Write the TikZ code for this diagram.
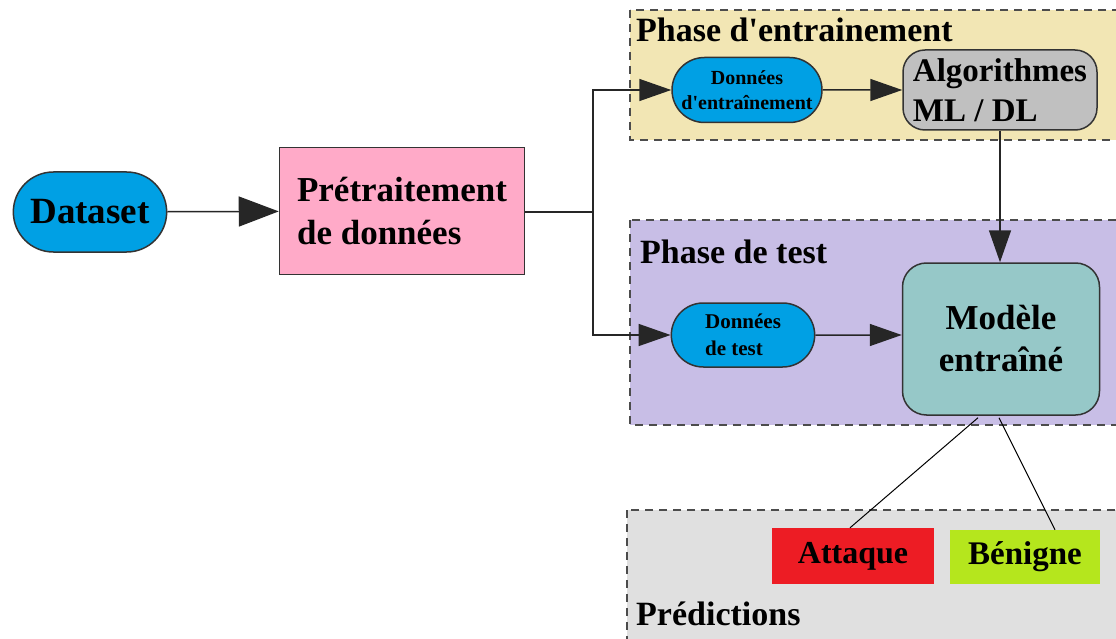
\documentclass[tikz,border=0pt]{standalone}
\usepackage{fontspec}
\setmainfont{Liberation Serif}
\usetikzlibrary{arrows.meta,shapes.misc,calc}
\definecolor{xanhdl}{RGB}{0,160,228}
\definecolor{hong}{RGB}{255,170,200}
\definecolor{vangnhat}{RGB}{242,230,180}
\definecolor{xamhop}{RGB}{192,192,192}
\definecolor{tim}{RGB}{200,190,230}
\definecolor{xanhmh}{RGB}{150,200,200}
\definecolor{xamnhat}{RGB}{224,224,224}
\definecolor{do}{RGB}{237,28,36}
\definecolor{xanhla}{RGB}{181,230,29}
\tikzset{
  khung/.style={draw=black!70, line width=2pt, dash pattern=on 8pt off 6pt},
  vien/.style={draw=black!80, line width=1.5pt},
  tieude/.style={anchor=base west, inner sep=0pt, font=\bfseries\fontsize{34}{40}\selectfont},
  vienoval/.style={vien, rounded rectangle, fill=xanhdl},
  muiten/.style={-{Triangle[length=32pt,width=22pt]}, line width=1.5pt, draw=black!85},
  muitenlon/.style={-{Triangle[length=40pt,width=30pt]}, line width=1.5pt, draw=black!85},
  duong/.style={line width=1.5pt, draw=black!85}
}
\begin{document}
\begin{tikzpicture}[x=1pt,y=-1pt]
    \useasboundingbox (0,0) rectangle (1116,639);
    \clip (0,0) rectangle (1116,639);
    \fill[white] (0,0) rectangle (1116,639);

    % Vẽ các khung nét đứt
    \draw[khung, fill=vangnhat] (630,10) rectangle (1130,140);
    \draw[khung, fill=tim] (630,220) rectangle (1130,425);
    \draw[khung, fill=xamnhat] (627,510) rectangle (1130,650);

    % Tiêu đề các khung
    \node[tieude] (tdtrain) at (636,42) {Phase d\textquotesingle entrainement};
    \node[tieude] (tdtest) at (640,263) {Phase de test};
    \node[tieude] (tdpred) at (636,625) {Prédictions};

    % Các nút
    \node[vienoval, minimum width=160, minimum height=80,
          font=\bfseries\fontsize{37}{42}\selectfont] (data) at (90,212) {Dataset};
    \node[vien, fill=hong, minimum width=245, minimum height=127, align=left,
          font=\bfseries\fontsize{35}{43}\selectfont] (pre) at (402,211) {Prétraitement\\de données};
    \node[vienoval, minimum width=150, minimum height=65, inner sep=0pt, align=center,
          font=\bfseries\fontsize{20}{25}\selectfont] (dtrain) at (747,90) {Données\\d\textquotesingle entraînement};
    \node[vien, fill=xamhop, rounded corners=22pt, minimum width=194, minimum height=80,
          align=left, font=\bfseries\fontsize{33}{40}\selectfont] (algo) at (1000,90) {Algorithmes\\ML / DL};
    \node[vienoval, minimum width=150, minimum height=64, align=left,
          font=\bfseries\fontsize{21}{27}\selectfont] (dtest) at (743,335) {Données\\de test};
    \node[vien, fill=xanhmh, rounded corners=24pt, minimum width=197, minimum height=152,
          align=center, font=\bfseries\fontsize{35}{42}\selectfont] (model) at (1001,339) {Modèle\\entraîné};
    \node[fill=do, minimum width=162, minimum height=56,
          font=\bfseries\fontsize{32}{38}\selectfont] (attaque) at (853,556) {Attaque};
    \node[fill=xanhla, minimum width=150, minimum height=54,
          font=\bfseries\fontsize{33}{38}\selectfont] (benigne) at (1025,557) {Bénigne};

    % Vẽ các mũi tên
    \coordinate (nhanh) at (593,212);
    \draw[muitenlon] (data) -- (pre);
    \draw[duong] (pre.east |- nhanh) -- (nhanh);
    \draw[muiten] (nhanh) |- (dtrain.west);
    \draw[muiten] (nhanh) |- (dtest.west);
    \draw[muiten] (dtrain) -- (algo.west |- dtrain);
    \draw[muiten] (algo.south) -- (algo.south |- model.north);
    \draw[muiten] (dtest) -- (model.west |- dtest);

    % Nối tới kết quả dự đoán
    \draw[line width=1pt] ($(model.south)+(-23,2)$) -- ($(attaque.north)+(-3,0)$);
    \draw[line width=1pt] ($(model.south)+(-2,2)$) -- ($(benigne.north)+(30,0)$);
\end{tikzpicture}
\end{document}
